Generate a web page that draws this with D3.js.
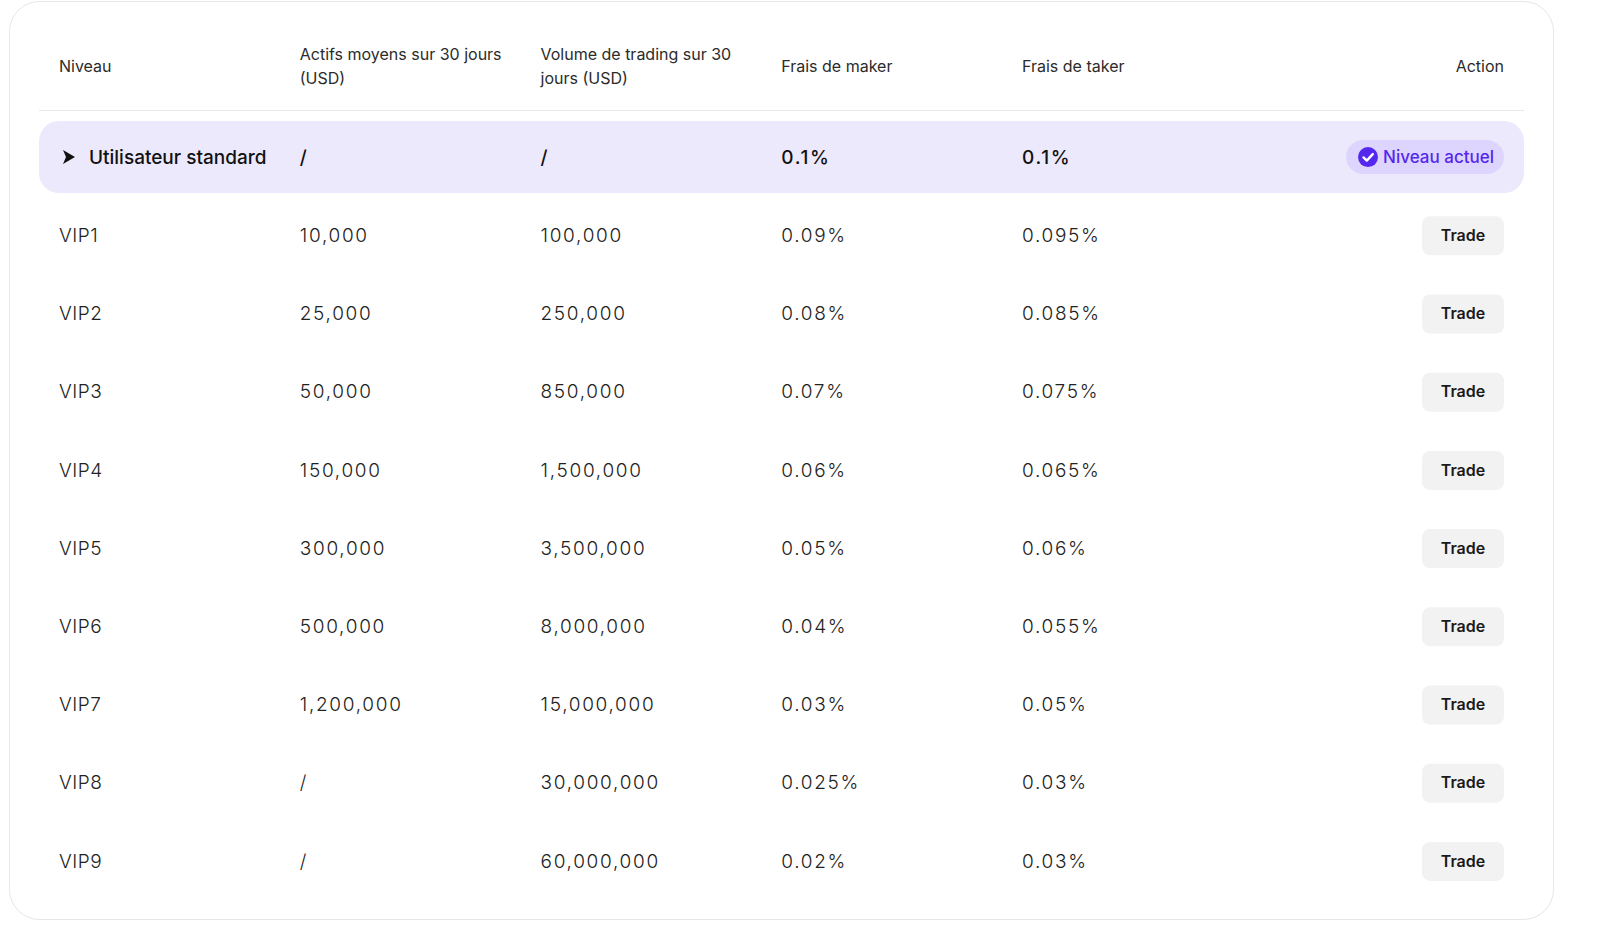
<!DOCTYPE html>
<html>
<head>
<meta charset="utf-8">
<script src="https://cdn.jsdelivr.net/npm/d3@7"></script>
<style>
  html, body { margin: 0; padding: 0; background: #fff; }
  svg { display: block; font-family: "Inter", "Noto Sans", sans-serif; }
</style>
</head>
<body>
<svg id="chart" width="1600" height="943"></svg>
<script>
// table data
var headers = [
    ['Niveau'],
    ['Actifs moyens sur 30 jours', '(USD)'],
    ['Volume de trading sur 30', 'jours (USD)'],
    ['Frais de maker'],
    ['Frais de taker'],
    ['Action']
];
var levels = ['Utilisateur standard','VIP1','VIP2','VIP3','VIP4','VIP5','VIP6','VIP7','VIP8','VIP9'];
var assets = ['/','10,000','25,000','50,000','150,000','300,000','500,000','1,200,000','/','/'];
var volumes = ['/','100,000','250,000','850,000','1,500,000','3,500,000','8,000,000','15,000,000','30,000,000','60,000,000'];
var makerFees = ['0.1%','0.09%','0.08%','0.07%','0.06%','0.05%','0.04%','0.03%','0.025%','0.02%'];
var takerFees = ['0.1%','0.095%','0.085%','0.075%','0.065%','0.06%','0.055%','0.05%','0.03%','0.03%'];
var currentLevel = 'Utilisateur standard';

var svg = d3.select("#chart");

// card
svg.append("rect")
    .attr("x", 9.5).attr("y", 1.5)
    .attr("width", 1544).attr("height", 918)
    .attr("rx", 30)
    .attr("fill", "#fff")
    .attr("stroke", "#e6e6e6");

var x = d3.scalePoint()
    .domain(d3.range(5))
    .range([59, 1022]);

var y = d3.scaleBand()
    .domain(levels)
    .range([118, 900]);

var actionX = 1504;

// header
var head = svg.append("g").attr("font-size", 16).attr("fill", "#2b2b2b");
headers.forEach((lines, i) => {
    var t = head.append("text")
        .attr("x", i < 5 ? x(i) : actionX)
        .attr("text-anchor", i < 5 ? "start" : "end")
        .attr("font-weight", 400);
    var y0 = lines.length == 1 ? 66 : 54;
    lines.forEach((line, j) => {
        t.append("tspan")
            .attr("x", i < 5 ? x(i) : actionX)
            .attr("y", y0 + j * 24)
            .attr("dy", "0.35em")
            .text(line);
    });
});

svg.append("line")
    .attr("x1", 39).attr("x2", 1524)
    .attr("y1", 110.5).attr("y2", 110.5)
    .attr("stroke", "#e8e8e8");

// rows
var rows = levels.map((level, i) => ({
    level: level,
    cells: [level, assets[i], volumes[i], makerFees[i], takerFees[i]]
}));

var row = svg.selectAll("g.row")
    .data(rows)
    .join("g")
    .attr("class", "row")
    .attr("transform", d => "translate(0," + (y(d.level) + y.bandwidth() / 2) + ")");

row.filter(d => d.level == currentLevel)
    .append("rect")
    .attr("x", 39).attr("y", -36)
    .attr("width", 1485).attr("height", 72)
    .attr("rx", 20)
    .attr("fill", "#ede9fd");

row.each(function(d) {
    var g = d3.select(this);
    var current = d.level == currentLevel;
    d.cells.forEach((c, i) => {
        g.append("text")
            .attr("x", i == 0 && current ? x(0) + 30 : x(i))
            .attr("dy", "0.35em")
            .attr("font-size", 19)
            .attr("font-weight", current ? 500 : 300)
            .attr("letter-spacing", i > 0 ? 1.7 : (current ? 0 : 0.5))
            .attr("fill", current ? "#111" : "#222")
            .text(c);
    });
    if (current) {
        g.append("path")
            .attr("d", "M63,-7 L75,0 L63,7 L66,0 Z")
            .attr("fill", "#111");
        // badge
        g.append("rect")
            .attr("x", 1346).attr("y", -17)
            .attr("width", 158).attr("height", 34)
            .attr("rx", 17)
            .attr("fill", "#ddd5fd");
        g.append("circle")
            .attr("cx", 1368).attr("cy", 0).attr("r", 10)
            .attr("fill", "#5528ee");
        g.append("path")
            .attr("d", "M1363.5,0.3 L1366.8,3.5 L1372.8,-3")
            .attr("fill", "none")
            .attr("stroke", "#fff")
            .attr("stroke-width", 2.4)
            .attr("stroke-linecap", "round")
            .attr("stroke-linejoin", "round");
        g.append("text")
            .attr("x", 1494).attr("dy", "0.35em")
            .attr("text-anchor", "end")
            .attr("font-size", 17)
            .attr("font-weight", 500)
            .attr("fill", "#5528ee")
            .text("Niveau actuel");
    } else {
        g.append("rect")
            .attr("x", 1422).attr("y", -19)
            .attr("width", 82).attr("height", 39)
            .attr("rx", 8)
            .attr("fill", "#f2f2f2");
        g.append("text")
            .attr("x", 1463).attr("dy", "0.35em")
            .attr("text-anchor", "middle")
            .attr("font-size", 16)
            .attr("font-weight", 600)
            .attr("fill", "#1a1a1a")
            .text("Trade");
    }
});
</script>
</body>
</html>
